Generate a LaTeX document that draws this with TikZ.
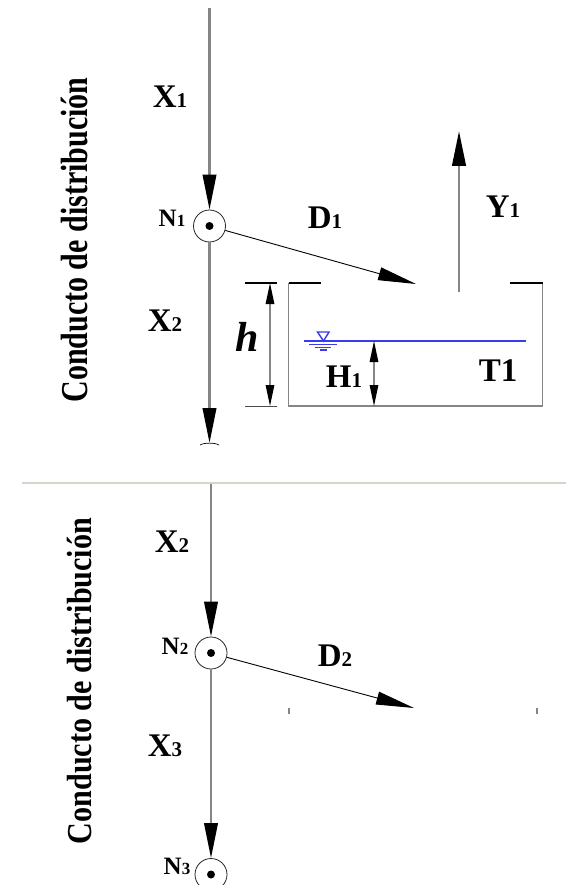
\documentclass[tikz,border=0pt]{standalone}
\usepackage{fontspec}
\setmainfont{Liberation Serif}
\usetikzlibrary{arrows.meta,positioning,calc}
\definecolor{pipe}{HTML}{858585}
\definecolor{water}{HTML}{3A3AF0}
\definecolor{rule}{HTML}{D8D4CC}
\newcommand{\sublab}[2]{#1{\fontsize{21}{21}\selectfont #2}}
\newcommand{\nsublab}[2]{#1{\fontsize{17}{17}\selectfont #2}}

\begin{document}
\begin{tikzpicture}[
  x=1pt, y=-1pt,
  pipeline/.style={draw=pipe,line width=2.2pt,-{Triangle[length=35pt,width=13.5pt,color=black]}},
  branch/.style={draw=black,line width=0.9pt,-{Triangle[length=38pt,width=13pt,color=black]}},
  dimline/.style={draw=pipe,line width=1.4pt,{Triangle[length=21pt,width=8.5pt,color=black]}-{Triangle[length=21pt,width=8.5pt,color=black]}},
  junction/.style={circle,draw=black!85,fill=white,line width=0.8pt,minimum size=32pt,inner sep=0pt},
  lab/.style={font=\fontsize{33}{33}\selectfont\bfseries,inner sep=0pt},
  nlab/.style={font=\fontsize{25}{25}\selectfont\bfseries,inner sep=0pt},
  side/.style={font=\fontsize{38}{38}\selectfont\bfseries,rotate=90,inner sep=0pt},
  wall/.style={draw=pipe,line width=1.2pt},
  lid/.style={draw=black,line width=2pt}
]
\useasboundingbox (0,0) rectangle (566,885);
% upper part
\coordinate (top1) at (209.5,8);
\coordinate (end1) at (209.5,443);
\coordinate (d1end) at (416,284);
\node[junction] (n1) at (209.5,226) {};
\fill (n1) circle (4);
\draw[pipeline] (top1) -- (n1);
\draw[pipeline] (n1) -- (end1);
\draw[branch] (n1) -- (d1end);
\draw[line width=0.7pt] (200,445) .. controls (204,442.5) and (215,442.5) .. (219,445);
% tank
\coordinate (ta) at (288.5,283);
\coordinate (tb) at (288.5,406);
\coordinate (tc) at (542.5,406);
\coordinate (td) at (542.5,283);
\draw[wall] (ta) -- (tb) -- (tc) -- (td);
\draw[lid] (ta) -- (321,283);
\draw[lid] (510,283) -- (td);
\coordinate (ybase) at (459,292);
\coordinate (ytip) at (459,131);
\draw[pipeline,line width=2.8pt] (ybase) -- (ytip);
% level h
\coordinate (ha) at (270,283);
\coordinate (hb) at (270,406);
\draw[lid] (245,283) -- (277,283);
\draw[draw=black!70,line width=0.7pt] (245,406) -- (277,406);
\draw[dimline] (ha) -- (hb);
% water
\coordinate (wa) at (304,341);
\coordinate (wb) at (526,341);
\coordinate (ua) at (374,341);
\coordinate (ub) at (374,406);
\draw[water,line width=1.4pt] (wa) -- (wb);
\draw[water,line width=1.4pt] (317.5,332) -- (329,332) -- (323.5,341) -- cycle;
\draw[water,line width=1.1pt] (309,344.5) -- (337,344.5);
\draw[water,line width=1pt] (315,347) -- (331,347);
\draw[water,line width=1.4pt] (320,350) -- (327,350);
\draw[dimline] (ua) -- (ub);
\node[lab] (x1) at (170,97) {\sublab{X}{1}};
\node[nlab] (n1lab) at (172,218) {\nsublab{N}{1}};
\node[lab] (d1) at (325,218) {\sublab{D}{1}};
\node[lab] (y1) at (503,207) {\sublab{Y}{1}};
\node[lab] (x2) at (165,321) {\sublab{X}{2}};
\node[lab,font=\fontsize{42}{42}\selectfont\bfseries\itshape] (h) at (247,337) {h};
\node[lab] (h1) at (344,377) {\sublab{H}{1}};
\node[lab] (t1) at (498,371) {T1};
\node[side,xscale=0.79] (c1) at (75,240) {Conducto de distribución};
% divider
\coordinate (la) at (22,483);
\coordinate (lb) at (566,483);
\draw[rule,line width=1.2pt] (la) -- (lb);
% lower part
\coordinate (top2) at (211,484);
\coordinate (d2end) at (414,708);
\node[junction] (n2) at (211,653) {};
\fill (n2) circle (4);
\begin{scope}
\clip (150,840) rectangle (240,885);
\node[junction] (n3) at (211,874.5) {};
\fill (n3) circle (4);
\end{scope}
\draw[pipeline] (top2) -- (n2);
\draw[pipeline] (n2) -- (n3);
\draw[branch] (n2) -- (d2end);
\draw[wall] (289,708) -- (289,714);
\draw[pipe,line width=2pt] (537,708) -- (537,714);
\node[lab] (x2b) at (172,542) {\sublab{X}{2}};
\node[nlab] (n2lab) at (175,646) {\nsublab{N}{2}};
\node[lab] (d2) at (335,656) {\sublab{D}{2}};
\node[lab] (x3) at (165,746) {\sublab{X}{3}};
\node[nlab] (n3lab) at (177,866) {\nsublab{N}{3}};
\node[side,font=\fontsize{35}{35}\selectfont\bfseries,xscale=0.86] (c2) at (80,681) {Conducto de distribución};
\end{tikzpicture}
\end{document}
